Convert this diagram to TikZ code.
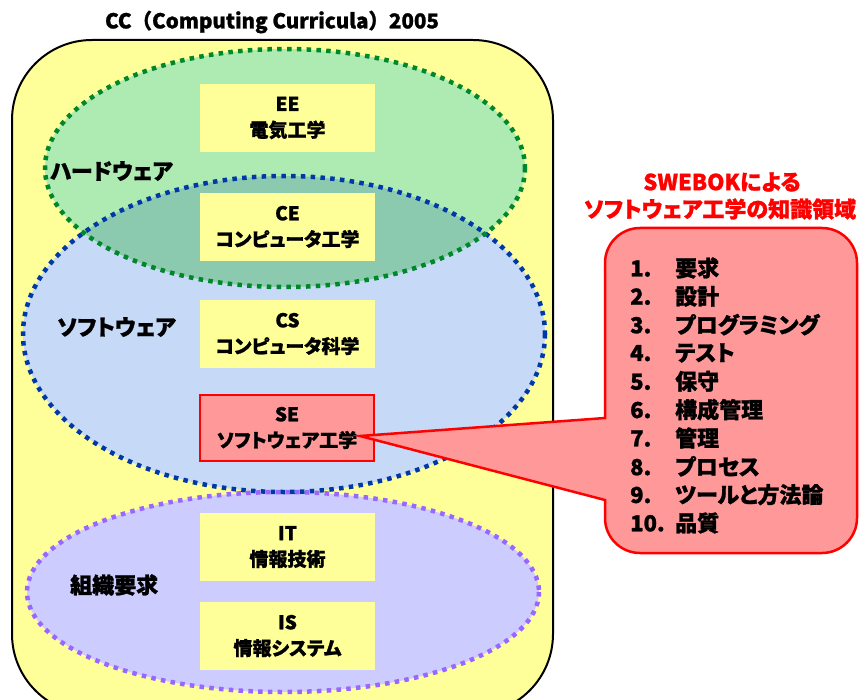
\documentclass[tikz,border=0pt]{standalone}
\usepackage{fontspec}
\setmainfont{Noto Sans CJK JP}[RawFeature=+palt, BoldFeatures={FakeBold=1.2}]
\newfontfamily\titlefont{Noto Sans CJK JP}[BoldFeatures={FakeBold=1.2}]
\definecolor{bgyellow}{HTML}{FFFF99}
\definecolor{hwfill}{HTML}{ADEBB3}
\definecolor{hwline}{HTML}{00862B}
\definecolor{swfill}{HTML}{C6D9F6}
\definecolor{swline}{HTML}{0038A8}
\definecolor{ovfill}{HTML}{8BCAAE}
\definecolor{orgfill}{HTML}{CCCCFF}
\definecolor{orgline}{HTML}{9966FF}
\definecolor{pink}{HTML}{FF9999}
\tikzset{
  dots/.style={line width=4.5pt, dash pattern=on 4.5pt off 5.3pt},
  field/.style={minimum width=175pt, minimum height=68pt, inner sep=0pt, fill=bgyellow, align=center, font=\fontsize{19}{26}\selectfont\bfseries},
  grouplabel/.style={anchor=west, inner sep=0pt, font=\fontsize{22}{26}\selectfont\bfseries},
  item/.style={anchor=west, inner sep=0pt, font=\fontsize{22}{24}\selectfont\bfseries},
  redhead/.style={inner sep=0pt, text=red, font=\fontsize{22}{26}\selectfont\bfseries}
}
\begin{document}
\begin{tikzpicture}[x=1pt, y=-1pt]
\useasboundingbox (0,0) rectangle (866,700);
% title
\node[inner sep=0pt, font=\titlefont\fontsize{20.5}{24}\selectfont\bfseries] (title) at (272,22) {CC（Computing Curricula）2005};
% outer frame
\draw[line width=2pt, fill=bgyellow, rounded corners=80pt] (12,40) rectangle (553,714);
% ellipses fills
\fill[swfill] (284,334) ellipse[x radius=261, y radius=158];
\fill[hwfill] (285,168) ellipse[x radius=240, y radius=119];
\begin{scope}
  \clip (284,334) ellipse[x radius=261, y radius=158];
  \fill[ovfill] (285,168) ellipse[x radius=240, y radius=119];
\end{scope}
\fill[orgfill] (283,592) ellipse[x radius=256, y radius=100];
% ellipse borders
\draw[dots, swline] (284,334) ellipse[x radius=261, y radius=158];
\draw[dots, hwline] (285,168) ellipse[x radius=240, y radius=119];
\draw[dots, orgline] (283,592) ellipse[x radius=256, y radius=100];
% group labels
\node[grouplabel] (hw) at (50,171) {ハードウェア};
\node[grouplabel] (sw) at (57,327) {ソフトウェア};
\node[grouplabel] (org) at (70,585) {組織要求};
% fields
\node[field] (ee) at (287.5,118) {EE\\電気工学};
\node[field] (ce) at (287.5,227) {CE\\コンピュータ工学};
\node[field] (cs) at (287.5,334) {CS\\コンピュータ科学};
\node[field, fill=pink, draw=red, line width=2.5pt, minimum width=174pt, minimum height=66pt] (se) at (287,428) {SE\\ソフトウェア工学};
\node[field] (it) at (287.5,547) {IT\\情報技術};
\node[field] (is) at (287.5,636) {IS\\情報システム};
% callout
\coordinate (tip) at (360,436);
\draw[red, line width=2.5pt, fill=pink, line join=miter]
  (tip) -- (605,418) -- (605,263) arc[start angle=180, end angle=270, radius=35]
  -- (822,228) arc[start angle=270, end angle=360, radius=35]
  -- (857,518) arc[start angle=0, end angle=90, radius=35]
  -- (640,553) arc[start angle=90, end angle=180, radius=35]
  -- (605,500) -- cycle;
\node[redhead] (h1) at (722,182) {SWEBOKによる};
\node[redhead] (h2) at (720,209) {ソフトウェア工学の知識領域};
\foreach \n/\t [count=\i from 0] in {1./要求, 2./設計, 3./プログラミング, 4./テスト, 5./保守, 6./構成管理, 7./管理, 8./プロセス, 9./ツールと方法論, 10./品質}{
  \node[item] (item\i) at (630,{268+28.33*\i}) {\makebox[45pt][l]{\n}\t};
}
\end{tikzpicture}
\end{document}
